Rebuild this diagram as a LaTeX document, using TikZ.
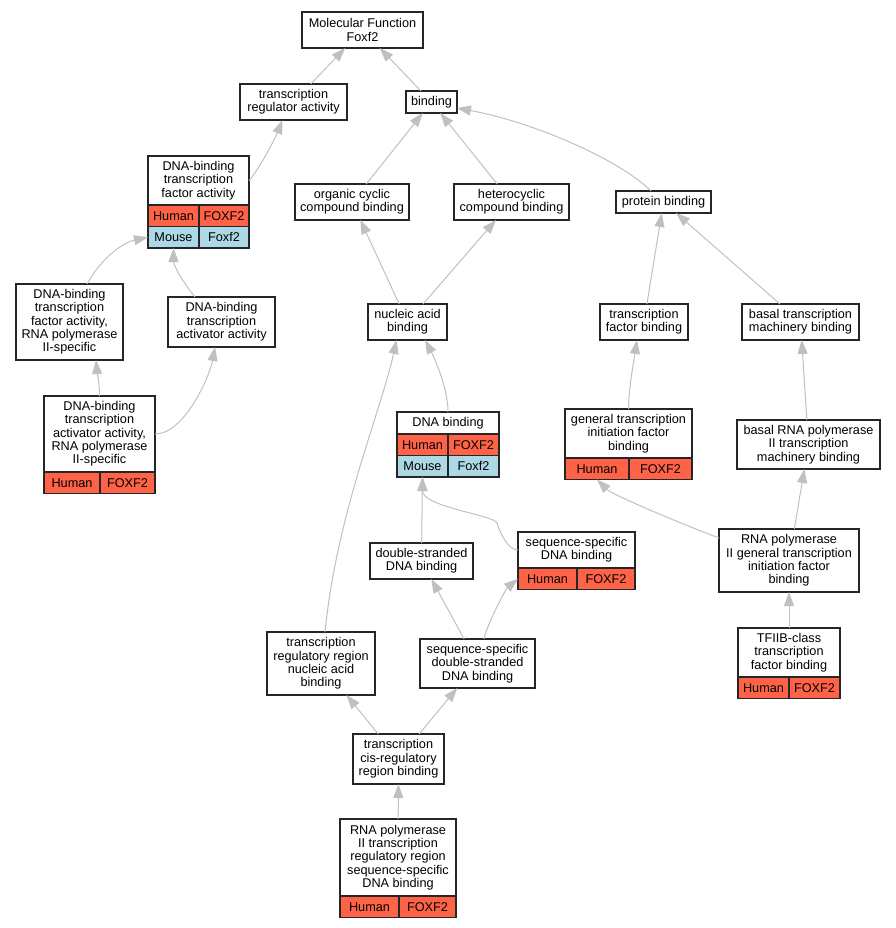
\documentclass[tikz,border=0pt]{standalone}
\usepackage{fontspec}
\setmainfont{Liberation Sans}
\usetikzlibrary{positioning}
\usetikzlibrary{arrows.meta}

\definecolor{humanfill}{RGB}{255,99,71}
\definecolor{mousefill}{RGB}{173,216,230}
\definecolor{edgegray}{RGB}{192,192,192}

\begin{document}
\begin{tikzpicture}[x=1pt, y=-1pt]

        \tikzstyle{term} = [rectangle, draw=black!85, line width=1.1pt, fill=white, align=center,
            inner sep=1pt, outer sep=0pt, font=\fontsize{12.7}{13.3}\selectfont]
        \tikzstyle{human} = [term, fill=humanfill, minimum height=21.5]
        \tikzstyle{mouse} = [term, fill=mousefill, minimum height=21.5]
        \tikzstyle{isa} = [draw=edgegray, line width=1pt, -{Triangle[length=14pt, width=10pt]}]

        \useasboundingbox (0,0) rectangle (895,928);

        \node[term, minimum width=121, minimum height=36] (mf)     at (362.5,30)    {Molecular Function\\Foxf2};
        \node[term, minimum width=107, minimum height=36] (tra)    at (293.5,102)   {transcription\\regulator activity};
        \node[term, minimum width=51,  minimum height=22] (bind)   at (431.5,102)   {binding};
        \node[term, minimum width=101, minimum height=49] (dbtfa)  at (198.5,180.5) {DNA-binding\\transcription\\factor activity};
        \node[human, minimum width=51, below right=0pt of dbtfa.south west]   (dbtfaHa) {Human};
        \node[human, minimum width=50, right=0pt of dbtfaHa]                  (dbtfaHb) {FOXF2};
        \node[mouse, minimum width=51, below right=0pt of dbtfaHa.south west] (dbtfaMa) {Mouse};
        \node[mouse, minimum width=50, right=0pt of dbtfaMa]                  (dbtfaMb) {Foxf2};
        \node[term, minimum width=114, minimum height=36] (orgc)   at (352,202)     {organic cyclic\\compound binding};
        \node[term, minimum width=115, minimum height=36] (hetc)   at (511.5,202)   {heterocyclic\\compound binding};
        \node[term, minimum width=95,  minimum height=22] (prot)   at (663.5,202)   {protein binding};

        \node[term, minimum width=107, minimum height=76] (dbtfa2) at (69.5,322)    {DNA-binding\\transcription\\factor activity,\\RNA polymerase\\II-specific};
        \node[term, minimum width=107, minimum height=50] (dbtaa)  at (221.5,322)   {DNA-binding\\transcription\\activator activity};
        \node[term, minimum width=79,  minimum height=36] (nab)    at (407.5,322)   {nucleic acid\\binding};
        \node[term, minimum width=88,  minimum height=36] (tfb)    at (644,322)     {transcription\\factor binding};
        \node[term, minimum width=117, minimum height=36] (btmb)   at (800.5,322)   {basal transcription\\machinery binding};

        \node[term, minimum width=111, minimum height=76] (dbtaa2) at (99.5,434)    {DNA-binding\\transcription\\activator activity,\\RNA polymerase\\II-specific};
        \node[human, minimum width=56, below right=0pt of dbtaa2.south west]  (dbtaa2Ha) {Human};
        \node[human, minimum width=55, right=0pt of dbtaa2Ha]                 (dbtaa2Hb) {FOXF2};
        \node[term, minimum width=102, minimum height=22] (dnab)   at (448,423)     {DNA binding};
        \node[human, minimum width=51, below right=0pt of dnab.south west]    (dnabHa) {Human};
        \node[human, minimum width=51, right=0pt of dnabHa]                   (dnabHb) {FOXF2};
        \node[mouse, minimum width=51, below right=0pt of dnabHa.south west]  (dnabMa) {Mouse};
        \node[mouse, minimum width=51, right=0pt of dnabMa]                   (dnabMb) {Foxf2};
        \node[term, minimum width=127, minimum height=49] (gtifb)  at (628.5,433.5) {general transcription\\initiation factor\\binding};
        \node[human, minimum width=64, below right=0pt of gtifb.south west]   (gtifbHa) {Human};
        \node[human, minimum width=63, right=0pt of gtifbHa]                  (gtifbHb) {FOXF2};
        \node[term, minimum width=143, minimum height=49] (brtmb)  at (808.5,444.5) {basal RNA polymerase\\II transcription\\machinery binding};

        \node[term, minimum width=103, minimum height=36] (dsdb)   at (421.5,561)   {double-stranded\\DNA binding};
        \node[term, minimum width=117, minimum height=36] (ssdb)   at (576.5,550)   {sequence-specific\\DNA binding};
        \node[human, minimum width=59, below right=0pt of ssdb.south west]    (ssdbHa) {Human};
        \node[human, minimum width=58, right=0pt of ssdbHa]                   (ssdbHb) {FOXF2};
        \node[term, minimum width=140, minimum height=63] (rgtif)  at (789,560.5)   {RNA polymerase\\II general transcription\\initiation factor\\binding};

        \node[term, minimum width=108, minimum height=63] (trrnab) at (321,663.5)   {transcription\\regulatory region\\nucleic acid\\binding};
        \node[term, minimum width=115, minimum height=49] (ssds)   at (477.5,663.5) {sequence-specific\\double-stranded\\DNA binding};
        \node[term, minimum width=102, minimum height=49] (tfiib)  at (789,652.5)   {TFIIB-class\\transcription\\factor binding};
        \node[human, minimum width=51, below right=0pt of tfiib.south west]   (tfiibHa) {Human};
        \node[human, minimum width=51, right=0pt of tfiibHa]                  (tfiibHb) {FOXF2};

        \node[term, minimum width=91,  minimum height=50] (tcrr)   at (398.5,759)   {transcription\\cis-regulatory\\region binding};
        \node[term, minimum width=116, minimum height=77] (rtrr)   at (398,857.5)   {RNA polymerase\\II transcription\\regulatory region\\sequence-specific\\DNA binding};
        \node[human, minimum width=59, below right=0pt of rtrr.south west]    (rtrrHa) {Human};
        \node[human, minimum width=57, right=0pt of rtrrHa]                   (rtrrHb) {FOXF2};

        % is_a links, child -> parent
        \draw[isa] (tra)  -- (mf);
        \draw[isa] (bind) -- (mf);
        \draw[isa] (dbtfa.east) .. controls +(8,-8) and +(-8,20) .. ([xshift=-11pt]tra.south);
        \draw[isa] (orgc) -- (bind);
        \draw[isa] (hetc) -- (bind);
        \draw[isa] ([xshift=-12.5pt]prot.north) .. controls +(-30,-30) and +(80,15) .. ([yshift=-6pt]bind.east);
        \draw[isa] ([xshift=17.5pt]dbtfa2.north) .. controls +(12,-22) and +(-28,6) .. (dbtfaMa.west);
        \draw[isa] ([xshift=-26.5pt]dbtaa.north) .. controls +(-10,-12) and +(0,18) .. (dbtfaMa.south);
        \draw[isa] (nab)  -- (orgc);
        \draw[isa] (nab)  -- (hetc);
        \draw[isa] (tfb)  -- (prot);
        \draw[isa] (btmb) -- (prot);
        \draw[isa] (dbtaa2.north) .. controls +(0,-15) and +(1,12) .. ([xshift=26.5pt]dbtfa2.south);
        \draw[isa] (dbtaa2.east) .. controls +(30,0) and +(-5,28) .. ([xshift=-6.5pt]dbtaa.south);
        \draw[isa] (dnab.north) .. controls +(0,-25) and +(8,15) .. ([xshift=17.5pt]nab.south);
        \draw[isa] ([xshift=4pt]trrnab.north) .. controls +(12,-120) and +(-15,70) .. ([xshift=-11pt]nab.south);
        \draw[isa] (dsdb) -- (dnabMa);
        \draw[isa] (ssdb.west) .. controls +(-10,0) and +(3,10) .. ++(-21,-27)
                               .. controls +(-3,-8) and +(0,30) .. (dnabMa.south);
        \draw[isa] (gtifb.north) .. controls +(0,-20) and +(-3,20) .. ([xshift=-7pt]tfb.south);
        \draw[isa] (brtmb) -- (btmb);
        \draw[isa] ([yshift=-9pt]rgtif.north west) .. controls +(-40,-15) and +(15,15) .. (gtifbHa.south);
        \draw[isa] (rgtif) -- (brtmb);
        \draw[isa] (tfiib) -- (rgtif);
        \draw[isa] (ssds)  -- (dsdb);
        \draw[isa] ([xshift=6.5pt]ssds.north) .. controls +(3,-15) and +(-12,10) .. (ssdbHa.west);
        \draw[isa] (tcrr)  -- (trrnab);
        \draw[isa] (tcrr)  -- (ssds);
        \draw[isa] (rtrr)  -- (tcrr);

\end{tikzpicture}
\end{document}
